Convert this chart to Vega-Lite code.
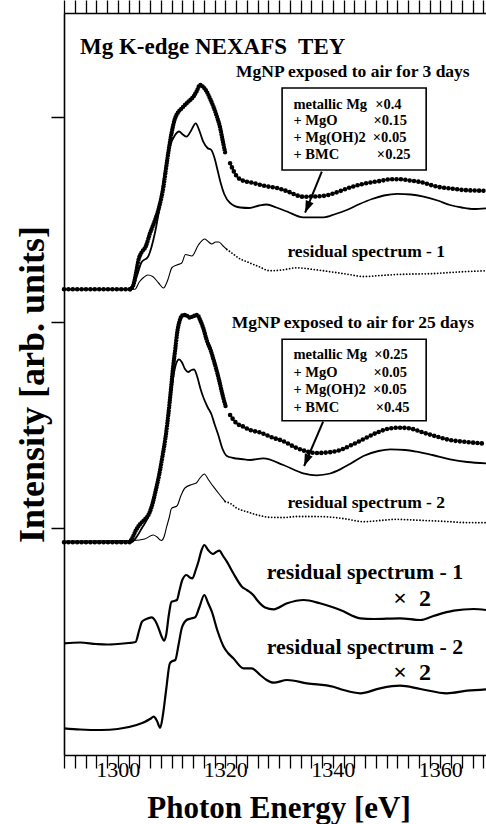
{
"$schema":"https://vega.github.io/schema/vega-lite/v6.json",
"width":422,"height":742,
"autosize":{"type":"none"},
"padding":{"left":64,"top":13,"right":0,"bottom":69},
"background":"white",
"config":{"view":{"stroke":null},"font":"Liberation Serif"},
"datasets":{
"fit":[
{"s":"f1","E":1290,"I":465.7},{"s":"f1","E":1302.6,"I":465.7},{"s":"f1","E":1303.5,"I":478},{"s":"f1","E":1304.45,"I":493},{"s":"f1","E":1305.6,"I":498},{"s":"f1","E":1306.9,"I":521.7},{"s":"f1","E":1307.9,"I":551.7},{"s":"f1","E":1308.8,"I":585},{"s":"f1","E":1309.7,"I":608.3},{"s":"f1","E":1310.66,"I":620},{"s":"f1","E":1311.4,"I":623.5},{"s":"f1","E":1312.1,"I":620.5},{"s":"f1","E":1312.8,"I":618.3},{"s":"f1","E":1313.6,"I":624},{"s":"f1","E":1314.5,"I":631.7},{"s":"f1","E":1315.2,"I":624},{"s":"f1","E":1315.9,"I":613.3},{"s":"f1","E":1316.7,"I":607},{"s":"f1","E":1317.4,"I":605},{"s":"f1","E":1318.0,"I":597},{"s":"f1","E":1318.6,"I":584},{"s":"f1","E":1319.2,"I":571},{"s":"f1","E":1319.8,"I":561},{"s":"f1","E":1320.9,"I":552},{"s":"f1","E":1322.8,"I":547.5},{"s":"f1","E":1324.5,"I":547},{"s":"f1","E":1326.3,"I":549.5},{"s":"f1","E":1327.7,"I":550.5},{"s":"f1","E":1329.5,"I":547.5},{"s":"f1","E":1331.5,"I":543.5},{"s":"f1","E":1334.5,"I":537.7},{"s":"f1","E":1338.3,"I":537.7},{"s":"f1","E":1340.5,"I":541},{"s":"f1","E":1342.6,"I":545},{"s":"f1","E":1345,"I":551},{"s":"f1","E":1347.3,"I":556},{"s":"f1","E":1349.5,"I":559.5},{"s":"f1","E":1352,"I":561.2},{"s":"f1","E":1354.5,"I":560.5},{"s":"f1","E":1356.9,"I":558.3},{"s":"f1","E":1359.5,"I":554.5},{"s":"f1","E":1361.8,"I":550},{"s":"f1","E":1364,"I":547.5},{"s":"f1","E":1366.2,"I":546},{"s":"f1","E":1368.5,"I":546.7},
{"s":"f2","E":1290,"I":212.7},{"s":"f2","E":1302.5,"I":212.7},{"s":"f2","E":1303.5,"I":218},{"s":"f2","E":1304.5,"I":227},{"s":"f2","E":1305.5,"I":236},{"s":"f2","E":1306.4,"I":249},{"s":"f2","E":1307.2,"I":265},{"s":"f2","E":1308.0,"I":290},{"s":"f2","E":1308.7,"I":313},{"s":"f2","E":1309.3,"I":335},{"s":"f2","E":1309.9,"I":360},{"s":"f2","E":1310.4,"I":380},{"s":"f2","E":1310.9,"I":392},{"s":"f2","E":1311.4,"I":395.7},{"s":"f2","E":1311.9,"I":393},{"s":"f2","E":1312.5,"I":386},{"s":"f2","E":1313.1,"I":383},{"s":"f2","E":1313.7,"I":385},{"s":"f2","E":1314.2,"I":385.5},{"s":"f2","E":1314.8,"I":378},{"s":"f2","E":1315.4,"I":366},{"s":"f2","E":1315.9,"I":358},{"s":"f2","E":1316.7,"I":348},{"s":"f2","E":1317.4,"I":341},{"s":"f2","E":1318.0,"I":331},{"s":"f2","E":1318.7,"I":320},{"s":"f2","E":1319.5,"I":306},{"s":"f2","E":1320.3,"I":299},{"s":"f2","E":1321.5,"I":297},{"s":"f2","E":1323.0,"I":296},{"s":"f2","E":1324.6,"I":295},{"s":"f2","E":1327.1,"I":296.7},{"s":"f2","E":1330.8,"I":290},{"s":"f2","E":1334.5,"I":281.7},{"s":"f2","E":1337.0,"I":279.7},{"s":"f2","E":1339.5,"I":281.5},{"s":"f2","E":1341.4,"I":285.7},{"s":"f2","E":1343.5,"I":292},{"s":"f2","E":1345.7,"I":299},{"s":"f2","E":1348.5,"I":304},{"s":"f2","E":1350.7,"I":305.7},{"s":"f2","E":1353.5,"I":305},{"s":"f2","E":1355.6,"I":303.3},{"s":"f2","E":1358.5,"I":300},{"s":"f2","E":1361.8,"I":295.7},{"s":"f2","E":1365,"I":293},{"s":"f2","E":1368.5,"I":291.7}
],
"resSolid":[
{"s":"r1","E":1290,"I":465.7},{"s":"r1","E":1303.2,"I":465.7},{"s":"r1","E":1304.0,"I":473},{"s":"r1","E":1304.8,"I":477.5},{"s":"r1","E":1305.6,"I":480},{"s":"r1","E":1306.5,"I":478.5},{"s":"r1","E":1307.6,"I":472},{"s":"r1","E":1308.5,"I":467},{"s":"r1","E":1309.3,"I":475},{"s":"r1","E":1310.1,"I":487.5},{"s":"r1","E":1311.0,"I":490},{"s":"r1","E":1311.9,"I":492},{"s":"r1","E":1312.6,"I":500.5},{"s":"r1","E":1313.8,"I":499},{"s":"r1","E":1315.0,"I":510},{"s":"r1","E":1316.2,"I":516},{"s":"r1","E":1316.9,"I":513},{"s":"r1","E":1317.5,"I":511},{"s":"r1","E":1318.2,"I":513},{"s":"r1","E":1318.8,"I":513},{"s":"r1","E":1319.6,"I":509},{"s":"r1","E":1320.3,"I":505.5},
{"s":"r2","E":1290,"I":214},{"s":"r2","E":1303,"I":214.5},{"s":"r2","E":1305,"I":216},{"s":"r2","E":1306.6,"I":220},{"s":"r2","E":1307.3,"I":218},{"s":"r2","E":1308.1,"I":214.5},{"s":"r2","E":1308.6,"I":218},{"s":"r2","E":1309.1,"I":228.3},{"s":"r2","E":1309.6,"I":238},{"s":"r2","E":1310.0,"I":246.7},{"s":"r2","E":1311.0,"I":249},{"s":"r2","E":1311.8,"I":260},{"s":"r2","E":1312.5,"I":267},{"s":"r2","E":1313.8,"I":270.5},{"s":"r2","E":1314.6,"I":272},{"s":"r2","E":1315.3,"I":277},{"s":"r2","E":1316.1,"I":281},{"s":"r2","E":1316.9,"I":275},{"s":"r2","E":1317.8,"I":268.3},{"s":"r2","E":1319.0,"I":260},{"s":"r2","E":1320.0,"I":253.3}
],
"resDotted":[
{"s":"r1","E":1320.3,"I":505.5},{"s":"r1","E":1320.9,"I":503.3},{"s":"r1","E":1322.8,"I":496},{"s":"r1","E":1324,"I":493.3},{"s":"r1","E":1326,"I":489},{"s":"r1","E":1328.3,"I":484.3},{"s":"r1","E":1330.5,"I":485},{"s":"r1","E":1333.3,"I":487.2},{"s":"r1","E":1336.5,"I":485.5},{"s":"r1","E":1339.5,"I":483.3},{"s":"r1","E":1342.5,"I":481},{"s":"r1","E":1345.7,"I":478.5},{"s":"r1","E":1348.8,"I":479.5},{"s":"r1","E":1351.9,"I":480.5},{"s":"r1","E":1355,"I":481},{"s":"r1","E":1358.1,"I":481.3},{"s":"r1","E":1361.2,"I":482.3},{"s":"r1","E":1364.3,"I":483.3},{"s":"r1","E":1368.5,"I":484.2},
{"s":"r2","E":1320,"I":253.3},{"s":"r2","E":1320.9,"I":251.7},{"s":"r2","E":1322.1,"I":247},{"s":"r2","E":1324,"I":243.3},{"s":"r2","E":1326,"I":240},{"s":"r2","E":1328.3,"I":237.7},{"s":"r2","E":1330.8,"I":237.5},{"s":"r2","E":1333.3,"I":238.5},{"s":"r2","E":1336.4,"I":238.5},{"s":"r2","E":1339.5,"I":238},{"s":"r2","E":1342.5,"I":236},{"s":"r2","E":1345.7,"I":233.3},{"s":"r2","E":1348.8,"I":234.5},{"s":"r2","E":1351.9,"I":235.7},{"s":"r2","E":1355,"I":235},{"s":"r2","E":1358.1,"I":234.3},{"s":"r2","E":1361.2,"I":233.5},{"s":"r2","E":1364.3,"I":232.5},{"s":"r2","E":1368.5,"I":232.3}
],
"scaled":[
{"s":"b1","E":1290,"I":111.7},{"s":"b1","E":1293,"I":112.5},{"s":"b1","E":1296,"I":111},{"s":"b1","E":1298,"I":110.5},{"s":"b1","E":1300,"I":111},{"s":"b1","E":1302,"I":112},{"s":"b1","E":1303.3,"I":113},{"s":"b1","E":1304.0,"I":125},{"s":"b1","E":1304.5,"I":133.3},{"s":"b1","E":1305.3,"I":136},{"s":"b1","E":1306.3,"I":137.7},{"s":"b1","E":1307.0,"I":134},{"s":"b1","E":1307.6,"I":126.7},{"s":"b1","E":1308.2,"I":118},{"s":"b1","E":1308.6,"I":114.3},{"s":"b1","E":1309.0,"I":120},{"s":"b1","E":1309.5,"I":140},{"s":"b1","E":1310.0,"I":153.3},{"s":"b1","E":1310.5,"I":154},{"s":"b1","E":1311.0,"I":155},{"s":"b1","E":1311.5,"I":165},{"s":"b1","E":1312.0,"I":175},{"s":"b1","E":1312.8,"I":180},{"s":"b1","E":1313.4,"I":177.5},{"s":"b1","E":1313.9,"I":176.7},{"s":"b1","E":1314.5,"I":185},{"s":"b1","E":1315.0,"I":193.3},{"s":"b1","E":1315.6,"I":205},{"s":"b1","E":1316.1,"I":210},{"s":"b1","E":1316.8,"I":205},{"s":"b1","E":1317.7,"I":201},{"s":"b1","E":1318.3,"I":203},{"s":"b1","E":1318.9,"I":204.3},{"s":"b1","E":1319.6,"I":199},{"s":"b1","E":1320.3,"I":193.3},{"s":"b1","E":1321.5,"I":181.7},{"s":"b1","E":1323.1,"I":168.3},{"s":"b1","E":1324.0,"I":165},{"s":"b1","E":1325.2,"I":160},{"s":"b1","E":1325.9,"I":155},{"s":"b1","E":1327.4,"I":147.5},{"s":"b1","E":1329,"I":145.7},{"s":"b1","E":1331.5,"I":151.7},{"s":"b1","E":1334.6,"I":155},{"s":"b1","E":1337.6,"I":151.7},{"s":"b1","E":1341.4,"I":145},{"s":"b1","E":1345.1,"I":136.7},{"s":"b1","E":1347.6,"I":136},{"s":"b1","E":1352.5,"I":136.7},{"s":"b1","E":1356.3,"I":135},{"s":"b1","E":1358.7,"I":139},{"s":"b1","E":1362.5,"I":144.3},{"s":"b1","E":1366.2,"I":146},{"s":"b1","E":1368.5,"I":145},
{"s":"b2","E":1290,"I":26.7},{"s":"b2","E":1293,"I":25.5},{"s":"b2","E":1297,"I":25},{"s":"b2","E":1300,"I":26},{"s":"b2","E":1303.5,"I":30},{"s":"b2","E":1305.0,"I":33},{"s":"b2","E":1306.0,"I":36},{"s":"b2","E":1306.7,"I":38.3},{"s":"b2","E":1307.3,"I":34},{"s":"b2","E":1307.9,"I":27.3},{"s":"b2","E":1308.4,"I":40},{"s":"b2","E":1309.0,"I":65},{"s":"b2","E":1309.7,"I":91.7},{"s":"b2","E":1310.2,"I":94},{"s":"b2","E":1310.7,"I":95},{"s":"b2","E":1311.3,"I":110},{"s":"b2","E":1311.9,"I":126.7},{"s":"b2","E":1312.8,"I":135},{"s":"b2","E":1313.6,"I":136.5},{"s":"b2","E":1314.4,"I":137.7},{"s":"b2","E":1315.2,"I":148},{"s":"b2","E":1316.1,"I":160},{"s":"b2","E":1316.8,"I":152},{"s":"b2","E":1317.5,"I":143.3},{"s":"b2","E":1318.5,"I":125},{"s":"b2","E":1319.7,"I":108.3},{"s":"b2","E":1320.5,"I":102},{"s":"b2","E":1321.5,"I":96.7},{"s":"b2","E":1323.4,"I":86.7},{"s":"b2","E":1324.9,"I":86.7},{"s":"b2","E":1326.5,"I":80},{"s":"b2","E":1327.7,"I":75},{"s":"b2","E":1329,"I":72.3},{"s":"b2","E":1331.5,"I":75},{"s":"b2","E":1335.2,"I":71.7},{"s":"b2","E":1340.1,"I":68.3},{"s":"b2","E":1342,"I":65},{"s":"b2","E":1345.1,"I":61.7},{"s":"b2","E":1348.8,"I":66.7},{"s":"b2","E":1352.5,"I":69.3},{"s":"b2","E":1356.3,"I":66},{"s":"b2","E":1361.2,"I":61.7},{"s":"b2","E":1365,"I":64.3},{"s":"b2","E":1368.5,"I":65.7}
],
"expDense":[
{"s":"e1","E":1302.3,"I":465.7},{"s":"e1","E":1302.9,"I":470},{"s":"e1","E":1303.4,"I":482},{"s":"e1","E":1303.9,"I":496},{"s":"e1","E":1304.4,"I":502.3},{"s":"e1","E":1305.2,"I":508.5},{"s":"e1","E":1306.0,"I":521.7},{"s":"e1","E":1306.8,"I":533},{"s":"e1","E":1307.55,"I":545},{"s":"e1","E":1308.5,"I":568.3},{"s":"e1","E":1309.2,"I":595},{"s":"e1","E":1310.0,"I":621.7},{"s":"e1","E":1310.66,"I":636.7},{"s":"e1","E":1311.2,"I":642.5},{"s":"e1","E":1311.9,"I":646.7},{"s":"e1","E":1313.1,"I":653.3},{"s":"e1","E":1314.07,"I":658.3},{"s":"e1","E":1314.7,"I":664},{"s":"e1","E":1315.3,"I":670},{"s":"e1","E":1316.0,"I":667.5},{"s":"e1","E":1316.55,"I":663.3},{"s":"e1","E":1317.2,"I":656},{"s":"e1","E":1317.8,"I":648.3},{"s":"e1","E":1318.4,"I":639},{"s":"e1","E":1319.0,"I":628.3},{"s":"e1","E":1319.5,"I":615},{"s":"e1","E":1320.0,"I":601.7},
{"s":"e2","E":1302.2,"I":212.7},{"s":"e2","E":1302.7,"I":217},{"s":"e2","E":1303.4,"I":225},{"s":"e2","E":1304.1,"I":230.5},{"s":"e2","E":1305.0,"I":235.5},{"s":"e2","E":1305.7,"I":240},{"s":"e2","E":1306.4,"I":250},{"s":"e2","E":1307.0,"I":263},{"s":"e2","E":1307.7,"I":280},{"s":"e2","E":1308.3,"I":298},{"s":"e2","E":1308.9,"I":318},{"s":"e2","E":1309.4,"I":340},{"s":"e2","E":1309.9,"I":366},{"s":"e2","E":1310.3,"I":388},{"s":"e2","E":1310.7,"I":406},{"s":"e2","E":1311.1,"I":424},{"s":"e2","E":1311.5,"I":434},{"s":"e2","E":1312.0,"I":439.5},{"s":"e2","E":1312.6,"I":440},{"s":"e2","E":1313.4,"I":437.5},{"s":"e2","E":1314.1,"I":439},{"s":"e2","E":1314.8,"I":440},{"s":"e2","E":1315.4,"I":434},{"s":"e2","E":1315.9,"I":427},{"s":"e2","E":1316.6,"I":414},{"s":"e2","E":1317.2,"I":406},{"s":"e2","E":1318.0,"I":392},{"s":"e2","E":1318.8,"I":376},{"s":"e2","E":1319.5,"I":360},{"s":"e2","E":1320.1,"I":348}
],
"expSparse":[
{"s":"e1a","E":1290,"I":465.7},{"s":"e1a","E":1302.3,"I":465.7},
{"s":"e1b","E":1320.9,"I":591.7},{"s":"e1b","E":1322.1,"I":579},{"s":"e1b","E":1322.8,"I":575.5},{"s":"e1b","E":1325.2,"I":572},{"s":"e1b","E":1327.4,"I":569},{"s":"e1b","E":1330,"I":566.5},{"s":"e1b","E":1331.4,"I":564},{"s":"e1b","E":1334.5,"I":558.3},{"s":"e1b","E":1337.6,"I":558.7},{"s":"e1b","E":1340.1,"I":561.5},{"s":"e1b","E":1341.4,"I":564},{"s":"e1b","E":1343.5,"I":568},{"s":"e1b","E":1345.7,"I":571.2},{"s":"e1b","E":1348.8,"I":574},{"s":"e1b","E":1350.7,"I":575.7},{"s":"e1b","E":1352.5,"I":575.7},{"s":"e1b","E":1354.4,"I":574.5},{"s":"e1b","E":1356.3,"I":573},{"s":"e1b","E":1359.4,"I":568.3},{"s":"e1b","E":1362,"I":566.5},{"s":"e1b","E":1364.3,"I":565},{"s":"e1b","E":1368.5,"I":564.2},
{"s":"e2a","E":1290,"I":212.7},{"s":"e2a","E":1302.2,"I":212.7},
{"s":"e2b","E":1320.9,"I":340},{"s":"e2b","E":1322.1,"I":331.7},{"s":"e2b","E":1323.4,"I":328.3},{"s":"e2b","E":1324.6,"I":325},{"s":"e2b","E":1326.5,"I":322.5},{"s":"e2b","E":1329,"I":317},{"s":"e2b","E":1330.5,"I":314.5},{"s":"e2b","E":1333.3,"I":307},{"s":"e2b","E":1337,"I":302},{"s":"e2b","E":1340.1,"I":303.3},{"s":"e2b","E":1341.4,"I":305},{"s":"e2b","E":1343.5,"I":310},{"s":"e2b","E":1345.7,"I":315.8},{"s":"e2b","E":1348.5,"I":323},{"s":"e2b","E":1350.7,"I":326.7},{"s":"e2b","E":1352.5,"I":327.3},{"s":"e2b","E":1354.4,"I":326.5},{"s":"e2b","E":1356.9,"I":322.3},{"s":"e2b","E":1359.4,"I":318.3},{"s":"e2b","E":1361.8,"I":315},{"s":"e2b","E":1364.3,"I":313.3},{"s":"e2b","E":1368.5,"I":311.3}
],
"boxes":[{"E1":1330.57,"E2":1357.37,"I1":667,"I2":585},{"E1":1330.57,"E2":1357.37,"I1":415.7,"I2":334.3}],
"arrows":[{"E1":1337.96,"I1":583.3,"E2":1334.85,"I2":542.3},{"E1":1338.2,"I1":333.3,"E2":1334.67,"I2":289}],
"titleText":[{"t":"Mg K-edge NEXAFS\u00a0 TEY","E":1292.98,"I":701.5}],
"mid":[{"t":"MgNP exposed to air for 3 days","E":1322.0,"I":678.3},{"t":"residual spectrum - 1","E":1331.56,"I":498.3},{"t":"MgNP exposed to air for 25 days","E":1321.2,"I":427.3},{"t":"residual spectrum - 2","E":1331.56,"I":247.3}],
"boxText":[{"t":"metallic Mg","E":1332.68,"I":646.5},{"t":"+ MgO","E":1332.68,"I":629.7},{"t":"+ Mg(OH)2","E":1332.68,"I":613},{"t":"+ BMC","E":1332.68,"I":596},
{"t":"×0.4","E":1347.88,"I":646.5},{"t":"×0.15","E":1347.57,"I":629.7},{"t":"×0.05","E":1347.45,"I":613},{"t":"×0.25","E":1348.2,"I":596},
{"t":"metallic Mg","E":1332.68,"I":396.5},{"t":"+ MgO","E":1332.68,"I":378.5},{"t":"+ Mg(OH)2","E":1332.68,"I":361},{"t":"+ BMC","E":1332.68,"I":343.5},
{"t":"×0.25","E":1347.7,"I":396.5},{"t":"×0.05","E":1347.57,"I":378.5},{"t":"×0.05","E":1347.5,"I":361},{"t":"×0.45","E":1348.0,"I":343.5}],
"big":[{"t":"residual spectrum - 1","E":1327.72,"I":175.7},{"t":"residual spectrum - 2","E":1327.72,"I":100.7}],
"times":[{"t":"×\u00a0 2","E":1354.77,"I":149},{"t":"×\u00a0 2","E":1354.77,"I":75}]
},
"resolve":{"axis":{"x":"independent","y":"independent"}},
"layer":[
{"data":{"name":"fit"},"mark":{"type":"line","stroke":"black","strokeWidth":1.8,"interpolate":"monotone"},
 "encoding":{
  "x":{"field":"E","type":"quantitative","scale":{"domain":[1290,1368.5],"nice":false,"zero":false},
   "axis":{"orient":"bottom","values":[1290,1292,1294,1296,1298,1300,1302,1304,1306,1308,1310,1312,1314,1316,1318,1320,1322,1324,1326,1328,1330,1332,1334,1336,1338,1340,1342,1344,1346,1348,1350,1352,1354,1356,1358,1360,1362,1364,1366,1368],
    "format":"d","labelExpr":"datum.value % 20 === 0 ? datum.label : ''","labelOverlap":false,"labelFlush":false,
    "grid":false,"domain":true,"domainColor":"black","domainWidth":1.6,"ticks":true,"tickSize":13,"tickColor":"black","tickWidth":1.3,
    "labelFont":"Liberation Serif","labelFontSize":22,"labelColor":"black","labelPadding":-9,"labelBaseline":"top",
    "title":"Photon Energy [eV]","titleFont":"Liberation Serif","titleFontSize":31,"titleFontWeight":"bold","titleColor":"black",
    "titleX":214.5,"titleY":62,"titleBaseline":"alphabetic","titleAlign":"center",
    "encode":{"ticks":{"update":{"y":{"value":0},"y2":{"signal":"datum.value % 20 === 0 ? -13 : (datum.value % 10 === 0 ? -10 : -6)"}}}}}},
  "y":{"field":"I","type":"quantitative","scale":{"domain":[0,742],"nice":false,"zero":false},
   "axis":{"orient":"left","values":[227,433,638],"labels":false,"grid":false,"domain":true,"domainColor":"black","domainWidth":1.6,
    "ticks":true,"tickSize":13,"tickColor":"black","tickWidth":1.5,
    "title":"Intensity [arb. units]","titleFont":"Liberation Serif","titleFontSize":36,"titleFontWeight":"bold","titleColor":"black",
    "titleAngle":270,"titleX":-21,"titleY":371,"titleBaseline":"alphabetic","titleAlign":"center",
    "encode":{"ticks":{"update":{"x":{"value":0},"x2":{"signal":"13"}}}}}},
  "detail":{"field":"s"}}},
{"data":{"name":"resSolid"},"mark":{"type":"line","stroke":"black","strokeWidth":1.1,"interpolate":"monotone"},
 "encoding":{"x":{"field":"E","type":"quantitative","axis":null},"y":{"field":"I","type":"quantitative","axis":null},"detail":{"field":"s"}}},
{"data":{"name":"resDotted"},"mark":{"type":"line","stroke":"black","strokeWidth":1.8,"strokeDash":[0,3.1],"strokeCap":"round","interpolate":"monotone"},
 "encoding":{"x":{"field":"E","type":"quantitative","axis":null},"y":{"field":"I","type":"quantitative","axis":null},"detail":{"field":"s"}}},
{"data":{"name":"scaled"},"mark":{"type":"line","stroke":"black","strokeWidth":2.2,"interpolate":"monotone"},
 "encoding":{"x":{"field":"E","type":"quantitative","axis":null},"y":{"field":"I","type":"quantitative","axis":null},"detail":{"field":"s"}}},
{"data":{"name":"expDense"},"mark":{"type":"line","stroke":"black","strokeWidth":4.4,"strokeDash":[0,2.6],"strokeCap":"round","interpolate":"monotone"},
 "encoding":{"x":{"field":"E","type":"quantitative","axis":null},"y":{"field":"I","type":"quantitative","axis":null},"detail":{"field":"s"}}},
{"data":{"name":"expSparse"},"mark":{"type":"line","stroke":"black","strokeWidth":4.6,"strokeDash":[0,4.4],"strokeCap":"round","interpolate":"monotone"},
 "encoding":{"x":{"field":"E","type":"quantitative","axis":null},"y":{"field":"I","type":"quantitative","axis":null},"detail":{"field":"s"}}},
{"data":{"name":"boxes"},"mark":{"type":"rect","fill":"white","stroke":"black","strokeWidth":1.6},
 "encoding":{
  "x":{"field":"E1","type":"quantitative",
   "axis":{"orient":"top","values":[1290,1292,1294,1296,1298,1300,1302,1304,1306,1308,1310,1312,1314,1316,1318,1320,1322,1324,1326,1328,1330,1332,1334,1336,1338,1340,1342,1344,1346,1348,1350,1352,1354,1356,1358,1360,1362,1364,1366,1368],
    "labels":false,"title":null,"grid":false,"domain":true,"domainColor":"black","domainWidth":1.6,"ticks":true,"tickSize":13,"tickColor":"black","tickWidth":1.3,
    "encode":{"ticks":{"update":{"y":{"value":0},"y2":{"signal":"datum.value % 20 === 0 ? 13 : (datum.value % 10 === 0 ? 9 : 5)"}}}}}},
  "x2":{"field":"E2"},
  "y":{"field":"I1","type":"quantitative",
   "axis":{"orient":"right","values":[227,433,638],"labels":false,"title":null,"grid":false,"domain":false,"ticks":true,"tickSize":6,"tickColor":"black","tickWidth":1.5,
    "encode":{"ticks":{"update":{"x":{"value":0},"x2":{"signal":"-6"}}}}}},
  "y2":{"field":"I2"}}},
{"data":{"name":"arrows"},"mark":{"type":"rule","stroke":"black","strokeWidth":2},
 "encoding":{"x":{"field":"E1","type":"quantitative","axis":null},"y":{"field":"I1","type":"quantitative","axis":null},"x2":{"field":"E2"},"y2":{"field":"I2"}}},
{"data":{"name":"arrows"},"mark":{"type":"point","shape":"M0,0L0.7,2L-0.7,2Z","filled":true,"fill":"black","stroke":null,"size":144,"angle":202.5,"opacity":1},
 "encoding":{"x":{"field":"E2","type":"quantitative","axis":null},"y":{"field":"I2","type":"quantitative","axis":null}}},
{"data":{"name":"titleText"},"mark":{"type":"text","font":"Liberation Serif","fontWeight":"bold","fontSize":23,"align":"left","baseline":"alphabetic","color":"black"},
 "encoding":{"x":{"field":"E","type":"quantitative","axis":null},"y":{"field":"I","type":"quantitative","axis":null},"text":{"field":"t"}}},
{"data":{"name":"mid"},"mark":{"type":"text","font":"Liberation Serif","fontWeight":"bold","fontSize":17.5,"align":"left","baseline":"alphabetic","color":"black"},
 "encoding":{"x":{"field":"E","type":"quantitative","axis":null},"y":{"field":"I","type":"quantitative","axis":null},"text":{"field":"t"}}},
{"data":{"name":"boxText"},"mark":{"type":"text","font":"Liberation Serif","fontWeight":"bold","fontSize":14.5,"align":"left","baseline":"alphabetic","color":"black"},
 "encoding":{"x":{"field":"E","type":"quantitative","axis":null},"y":{"field":"I","type":"quantitative","axis":null},"text":{"field":"t"}}},
{"data":{"name":"big"},"mark":{"type":"text","font":"Liberation Serif","fontWeight":"bold","fontSize":21.8,"align":"left","baseline":"alphabetic","color":"black"},
 "encoding":{"x":{"field":"E","type":"quantitative","axis":null},"y":{"field":"I","type":"quantitative","axis":null},"text":{"field":"t"}}},
{"data":{"name":"times"},"mark":{"type":"text","font":"Liberation Serif","fontWeight":"bold","fontSize":24,"align":"center","baseline":"alphabetic","color":"black"},
 "encoding":{"x":{"field":"E","type":"quantitative","axis":null},"y":{"field":"I","type":"quantitative","axis":null},"text":{"field":"t"}}}
]
}
